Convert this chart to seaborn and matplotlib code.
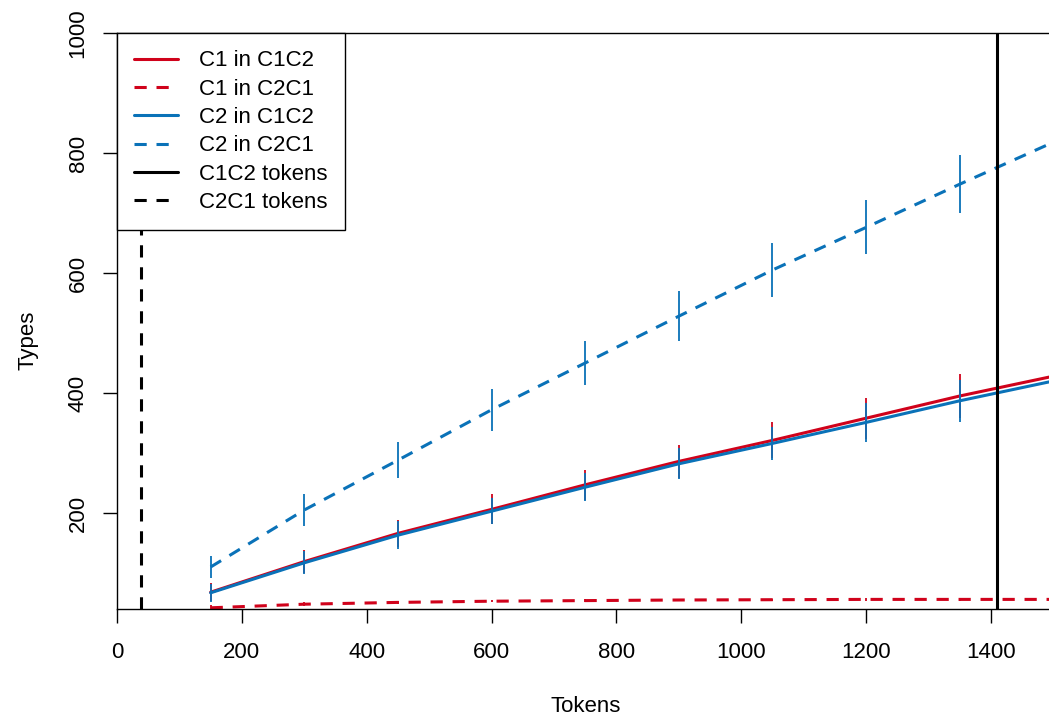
import numpy as np
import pandas as pd
import seaborn as sns
import matplotlib
matplotlib.use("Agg")
import matplotlib.pyplot as plt

# values
tokens = [150, 300, 450, 600, 750, 900, 1050, 1200, 1350, 1500]

c1_in_c1c2 = [68, 119, 166, 206, 247, 286, 321, 358, 395, 428]
c1_in_c1c2_err = [15, 19, 23, 25, 25, 27, 30, 34, 36, 38]

c1_in_c2c1 = [42, 48, 51, 53, 54, 55, 55.5, 56, 56, 56]
c1_in_c2c1_err = [4, 3, 3, 2, 2, 2, 2, 2, 2, 2]

c2_in_c1c2 = [67, 117, 163, 203, 243, 282, 316, 351, 387, 420]
c2_in_c1c2_err = [15, 19, 23, 22, 23, 26, 28, 33, 35, 37]

c2_in_c2c1 = [110, 205, 288, 372, 450, 528, 605, 676, 748, 818]
c2_in_c2c1_err = [18, 26, 30, 35, 37, 42, 45, 45, 48, 50]

c1c2_tokens = 1410
c2c1_tokens = 38

xticks = [0, 200, 400, 600, 800, 1000, 1200, 1400]
yticks = [200, 400, 600, 800, 1000]

RED = "#D0021B"
BLUE = "#0A72B8"
DASH = (0, (4, 3.2))

sns.set_style("ticks")
plt.rcParams["font.family"] = ["Liberation Sans", "DejaVu Sans"]
plt.rcParams["font.size"] = 16
plt.rcParams["text.color"] = "black"
plt.rcParams["axes.labelcolor"] = "black"
plt.rcParams["xtick.color"] = "black"
plt.rcParams["ytick.color"] = "black"

fig = plt.figure(figsize=(10.49, 7.24), dpi=100)
ax = fig.add_axes([117 / 1049, 115 / 724, 932 / 1049, 576 / 724])

series = [
    ("C1 in C1C2", c1_in_c1c2, c1_in_c1c2_err, RED, "-"),
    ("C1 in C2C1", c1_in_c2c1, c1_in_c2c1_err, RED, DASH),
    ("C2 in C1C2", c2_in_c1c2, c2_in_c1c2_err, BLUE, "-"),
    ("C2 in C2C1", c2_in_c2c1, c2_in_c2c1_err, BLUE, DASH),
]

handles = []
for label, vals, err, col, ls in series:
    df = pd.DataFrame({"Tokens": tokens, "Types": vals})
    sns.lineplot(data=df, x="Tokens", y="Types", color=col, linewidth=2.2,
                 linestyle=ls, ax=ax, label=label, legend=False)
    handles.append(ax.lines[-1])
    lo = np.array(vals) - np.array(err)
    hi = np.array(vals) + np.array(err)
    ax.vlines(tokens, lo, hi, color=col, linewidth=1.3)

handles.append(ax.axvline(c1c2_tokens, color="black", linewidth=2.2,
                          label="C1C2 tokens"))
handles.append(ax.axvline(c2c1_tokens, color="black", linewidth=2.2,
                          linestyle=DASH, label="C2C1 tokens"))

ax.set_xlim(0, 1493)
ax.set_ylim(40, 1000)
ax.set_xticks(xticks)
ax.set_yticks(yticks)
ax.tick_params(axis="both", direction="out", length=10, width=1.0,
               color="black", labelcolor="black", labelsize=16)
ax.tick_params(axis="x", pad=14)
ax.tick_params(axis="y", pad=10.5, labelrotation=90)
for t in ax.get_yticklabels():
    t.set_va("center")

for side in ["left", "top", "bottom"]:
    ax.spines[side].set_color("black")
    ax.spines[side].set_linewidth(1.0)
ax.spines["right"].set_visible(False)

ax.set_xlabel("Tokens", fontsize=16)
ax.set_ylabel("Types", fontsize=16)
ax.xaxis.set_label_coords(0.503, -0.17)
ax.xaxis.label.set_va("center")
ax.yaxis.set_label_coords(-0.096, 0.467)
ax.yaxis.label.set_va("center")

leg = ax.legend(handles=handles, loc="upper left", borderaxespad=0,
                fancybox=False, framealpha=1, edgecolor="black",
                fontsize=16, handlelength=1.95, handletextpad=0.95,
                labelspacing=0.33, borderpad=0.78)
leg.get_frame().set_linewidth(1.0)
leg.set_zorder(10)

fig.savefig("out.png", dpi=100)
